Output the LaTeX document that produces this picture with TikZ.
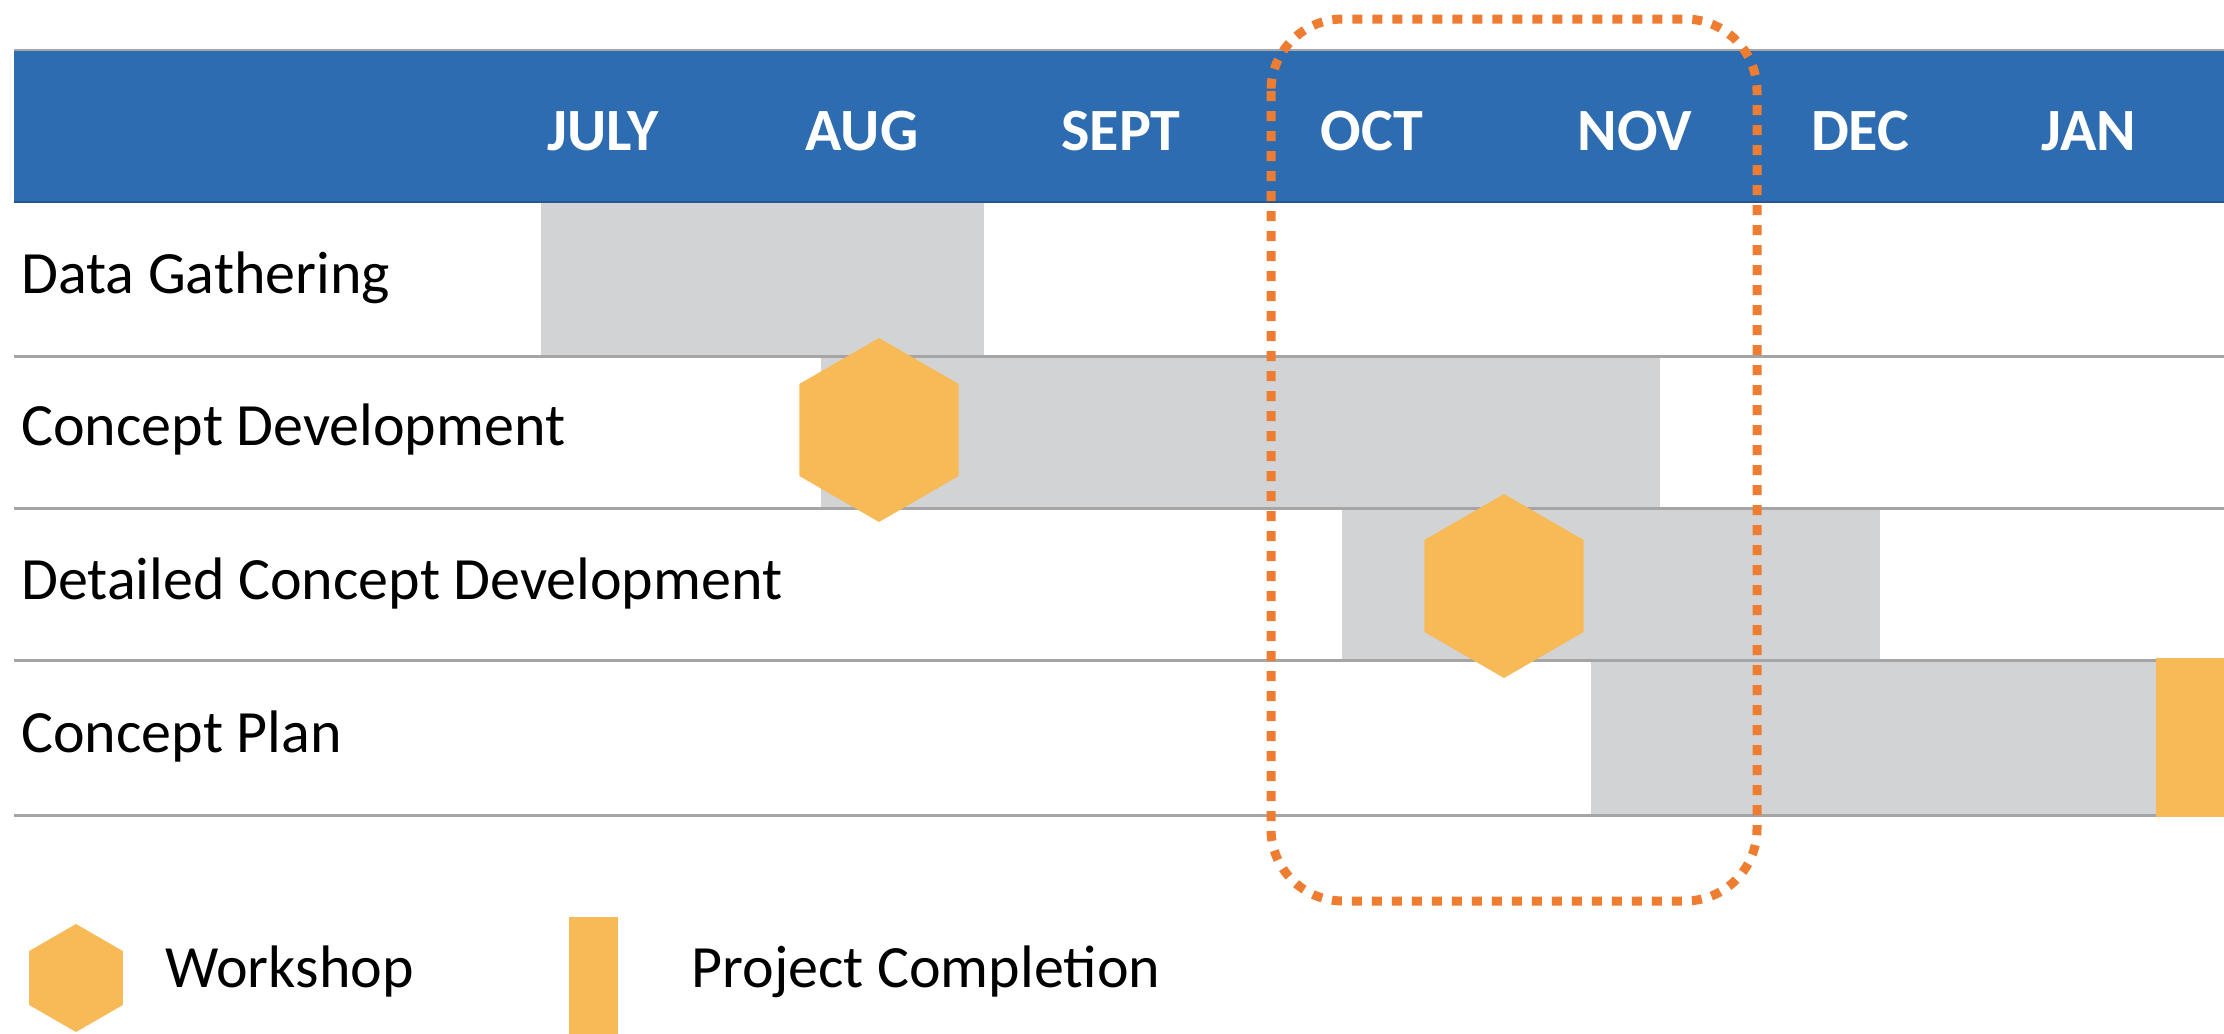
\documentclass[tikz,border=0pt]{standalone}
\usepackage{fontspec}
\setmainfont{Carlito}
\usetikzlibrary{shapes.geometric}
\definecolor{hdrblue}{HTML}{2E6CB2}
\definecolor{bargray}{HTML}{D1D3D4}
\definecolor{mileorange}{HTML}{F8BA57}
\definecolor{dashorange}{HTML}{EE7D31}
\definecolor{rulegray}{HTML}{A5A5A5}
\tikzset{
  month/.style={anchor=base, text=white, font=\fontsize{30}{36}\selectfont\bfseries, inner sep=0pt},
  rowlabel/.style={anchor=base west, text=black, font=\fontsize{30}{36}\selectfont, inner sep=0pt},
  taskbar/.style={fill=bargray, draw=none},
  rowrule/.style={draw=rulegray, line width=1.5pt},
  workshop/.style={regular polygon, regular polygon sides=6, shape border rotate=30, fill=mileorange, draw=none, inner sep=0pt, outer sep=0pt},
  focusbox/.style={draw=dashorange, line width=4.5pt, dash pattern=on 5pt off 5pt, rounded corners=36pt}
}
\begin{document}
\begin{tikzpicture}[x=0.5pt, y=-0.5pt]
\useasboundingbox (0,0) rectangle (2224,1034);
\fill[white] (0,0) rectangle (2224,1034);
% header
\fill[hdrblue] (14,50) rectangle (2224,203);
\draw[draw=gray!70, line width=1pt] (14,50) -- (2224,50);
\draw[draw=hdrblue!80!black, line width=1pt] (14,202) -- (2224,202);
\node[month] (jul) at (603,150) {JULY};
\node[month] (aug) at (862,150) {AUG};
\node[month] (sep) at (1121,150) {SEPT};
\node[month] (oct) at (1372,150) {OCT};
\node[month] (nov) at (1635,150) {NOV};
\node[month] (dec) at (1860,150) {DEC};
\node[month] (jan) at (2089,150) {JAN};
% task bars
\fill[taskbar] (541,203) rectangle (984,356);
\fill[taskbar] (821,356) rectangle (1660,508);
\fill[taskbar] (1342,508) rectangle (1880,660);
\fill[taskbar] (1591,660) rectangle (2224,815);
% row rules
\foreach \yy in {356,508,660,815} { \draw[rowrule] (14,\yy) -- (2224,\yy); }
% completion bar
\fill[mileorange] (2156,658) rectangle (2224,817);
% workshops
\node[workshop, minimum size=92pt] (ws1) at (879,430) {};
\node[workshop, minimum size=92pt] (ws2) at (1504,586) {};
% row labels
\node[rowlabel] (dg) at (21,293) {Data Gathering};
\node[rowlabel] (cd) at (21,445) {Concept Development};
\node[rowlabel] (dcd) at (21,599) {Detailed Concept Development};
\node[rowlabel] (cp) at (21,752) {Concept Plan};
% focus box
\draw[focusbox] (1271,19) rectangle (1757,901);
% legend
\node[workshop, minimum size=54pt] (legws) at (76,978) {};
\fill[mileorange] (569,917) rectangle (618,1034);
\node[rowlabel] (legwst) at (165,987) {Workshop};
\node[rowlabel] (legpc) at (691,987) {Project Completion};
\end{tikzpicture}
\end{document}
